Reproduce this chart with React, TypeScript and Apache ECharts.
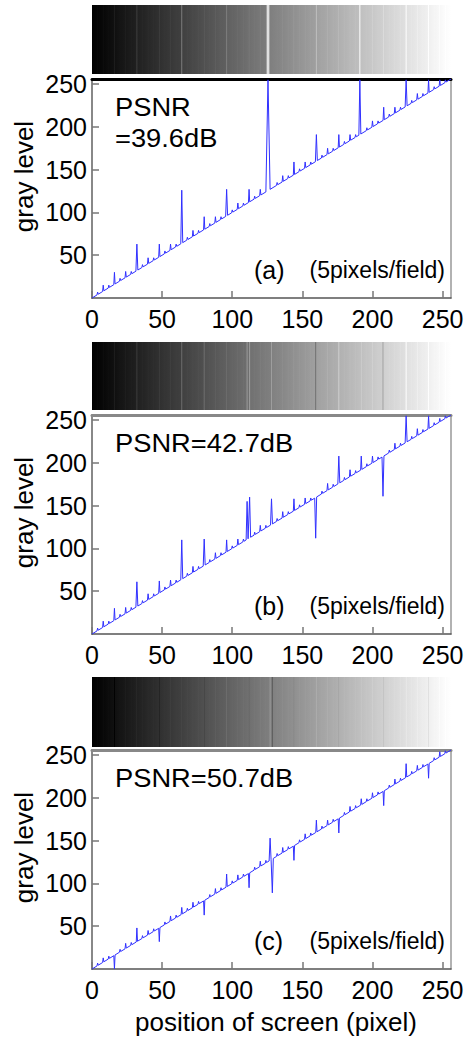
import React, { useEffect, useRef } from "react";
import * as echarts from "echarts";

// ---- data ----
// spike positions (gray level) and the gray value reached at each spike, per panel
const SPIKE_X_A = [4, 8, 12, 16, 20, 24, 28, 32, 36, 40, 44, 48, 52, 56, 60, 64, 68, 72, 76, 80, 84, 88, 92, 96, 100, 104, 108, 112, 116, 120, 125.5, 132, 136, 140, 144, 148, 152, 156, 160, 164, 168, 172, 176, 180, 184, 188, 191, 196, 200, 204, 208, 212, 216, 220, 224, 228, 232, 236, 240, 244, 248, 252];
const PEAK_A = [7, 15, 15, 30, 23, 31, 31, 63, 39, 47, 47, 63, 55, 63, 63, 126, 71, 79, 79, 95, 87, 95, 95, 127, 103, 111, 111, 127, 119, 127, 255, 135, 143, 143, 159, 151, 159, 159, 191, 167, 175, 175, 191, 183, 191, 191, 255, 199, 207, 207, 223, 215, 223, 223, 255, 231, 239, 239, 255, 247, 255, 255];

const SPIKE_X_B = [4, 8, 12, 16, 20, 24, 28, 32, 36, 40, 44, 48, 52, 56, 60, 64, 68, 72, 76, 80, 84, 88, 92, 96, 100, 104, 108, 110.6, 112.4, 116, 120, 124, 128, 132, 136, 140, 144, 148, 152, 156, 159.5, 164, 168, 172, 176, 180, 184, 188, 192, 196, 200, 204, 207.5, 212, 216, 220, 224, 228, 232, 236, 240, 244, 248, 252];
const PEAK_B = [7, 15, 15, 30, 23, 31, 31, 61, 39, 47, 47, 62, 55, 63, 63, 110, 71, 79, 79, 111, 87, 95, 95, 110, 103, 111, 111, 155, 160, 119, 127, 127, 158, 135, 143, 143, 158, 151, 159, 159, 112, 167, 176, 175, 208, 183, 192, 191, 208, 199, 208, 207, 161, 215, 223, 223, 255, 231, 240, 239, 255, 247, 252, 255];

const SPIKE_X_C = [4, 8, 12, 16, 20, 24, 28, 32, 36, 40, 44, 48, 52, 56, 60, 64, 68, 72, 76, 80, 84, 88, 92, 96, 100, 104, 108, 112, 116, 120, 124, 127, 128.6, 132, 136, 140, 144, 148, 152, 156, 160, 164, 168, 172, 176, 180, 184, 188, 192, 196, 200, 204, 208, 212, 216, 220, 224, 228, 232, 236, 240, 244, 248, 252];
const PEAK_C = [7, 13, 15, 0, 23, 30, 31, 48, 39, 45, 47, 32, 55, 62, 63, 72, 71, 78, 79, 63, 87, 94, 95, 111, 103, 110, 111, 95, 119, 126, 127, 153, 89, 135, 142, 143, 127, 151, 158, 159, 174, 167, 174, 175, 159, 183, 190, 191, 199, 199, 206, 207, 191, 215, 222, 223, 240, 231, 238, 239, 223, 247, 254, 255];

const PSNR_LINES_A = ["PSNR", "=39.6dB"];
const PSNR_LINES_B = ["PSNR=42.7dB"];
const PSNR_LINES_C = ["PSNR=50.7dB"];
const PANEL_TAGS = ["(a)", "(b)", "(c)"];
const FIELD_NOTE = "(5pixels/field)";
const Y_TITLE = "gray level";
const X_TITLE = "position of screen (pixel)";
const RAMP_START = [0, 0];
const RAMP_END = [256, 256];

const FONT = "'Liberation Sans', Arial, Helvetica, sans-serif";

function halfWidth(p: number, v: number) {
  const d = Math.abs(v - p);
  if (d > 90) return 1.5;
  if (d > 25) return 0.7;
  return 0.45;
}

function buildLine(xs: number[], ys: number[]) {
  const pts: number[][] = [RAMP_START.slice()];
  xs.forEach((p, i) => {
    const v = ys[i];
    const h = halfWidth(p, v);
    pts.push([p - h, p - h], [p, v], [p + h, p + h]);
  });
  pts.push(RAMP_END.slice());
  return pts;
}

function gray(v: number) {
  const c = Math.round(Math.max(0, Math.min(255, v)));
  return `rgb(${c},${c},${c})`;
}

export default function App() {
  const ref = useRef<HTMLDivElement>(null);
  useEffect(() => {
    if (!ref.current) return;
    const chart = echarts.init(ref.current, null, { renderer: "svg" });

    const panels = [
      { xs: SPIKE_X_A, ys: PEAK_A, barTop: 5, barH: 69, plotTop: 79, topColor: "#000", psnr: PSNR_LINES_A },
      { xs: SPIKE_X_B, ys: PEAK_B, barTop: 342, barH: 68, plotTop: 415, topColor: "#888", psnr: PSNR_LINES_B },
      { xs: SPIKE_X_C, ys: PEAK_C, barTop: 677, barH: 70, plotTop: 750, topColor: "#888", psnr: PSNR_LINES_C },
    ];
    const PLOT_H = 219;
    const LEFT = 92;
    const RIGHT = 22;

    const grid: any[] = [];
    const xAxis: any[] = [];
    const yAxis: any[] = [];
    const series: any[] = [];
    const graphic: any[] = [];

    panels.forEach((p, i) => {
      const pts = buildLine(p.xs, p.ys);
      grid.push({ left: LEFT, right: RIGHT, top: p.barTop, height: p.barH });
      grid.push({ left: LEFT, right: RIGHT, top: p.plotTop, height: PLOT_H });
      const gBar = 2 * i;
      const gPlot = 2 * i + 1;
      const ax = 3 * i;

      xAxis.push({ gridIndex: gBar, type: "value", min: 0, max: 256, show: false });
      xAxis.push({
        gridIndex: gPlot, type: "value", min: 0, max: 256, interval: 50, position: "bottom",
        axisLine: { show: true, onZero: false, lineStyle: { color: "#555", width: 1.5 } },
        axisTick: { show: true, inside: true, length: 7, lineStyle: { color: "#777", width: 1.5 } },
        axisLabel: { show: true, fontSize: 25, color: "#000", fontFamily: FONT, margin: 8, showMaxLabel: false, showMinLabel: true },
        splitLine: { show: false },
      });
      xAxis.push({
        gridIndex: gPlot, type: "value", min: 0, max: 256, position: "top",
        axisLine: { show: true, onZero: false, lineStyle: { color: p.topColor, width: 3 } },
        axisTick: { show: false }, axisLabel: { show: false }, splitLine: { show: false },
      });

      yAxis.push({ gridIndex: gBar, type: "value", min: 0, max: 1, show: false });
      yAxis.push({
        gridIndex: gPlot, type: "value", min: 0, max: 256, interval: 50, position: "left",
        axisLine: { show: true, onZero: false, lineStyle: { color: "#888", width: 2 } },
        axisTick: { show: true, inside: true, length: 7, lineStyle: { color: "#777", width: 1.5 } },
        axisLabel: { show: true, fontSize: 25, color: "#000", fontFamily: FONT, margin: 5, showMinLabel: false, showMaxLabel: false },
        splitLine: { show: false },
      });
      yAxis.push({
        gridIndex: gPlot, type: "value", min: 0, max: 256, position: "right",
        axisLine: { show: true, onZero: false, lineStyle: { color: "#999", width: 1.5 } },
        axisTick: { show: false }, axisLabel: { show: false }, splitLine: { show: false },
      });

      // gray-scale strip: each column shows the displayed gray level of the curve
      series.push({
        type: "custom",
        xAxisIndex: ax,
        yAxisIndex: ax,
        data: [[RAMP_START[0], RAMP_END[0]]],
        encode: { x: [0, 1] },
        silent: true,
        renderItem: (params: any, api: any) => {
          const a = api.coord([api.value(0), 1]);
          const b = api.coord([api.value(1), 0]);
          const w = b[0] - a[0];
          const stops = pts.map((pt) => {
            const c = api.coord([pt[0], 0]);
            return { offset: Math.max(0, Math.min(1, (c[0] - a[0]) / w)), color: gray(pt[1]) };
          });
          return {
            type: "rect",
            shape: { x: a[0], y: a[1], width: w, height: b[1] - a[1] },
            style: { fill: new echarts.graphic.LinearGradient(0, 0, 1, 0, stops) },
          };
        },
      });

      series.push({
        type: "line",
        xAxisIndex: ax + 1,
        yAxisIndex: ax + 1,
        data: pts,
        showSymbol: false,
        symbol: "none",
        silent: true,
        clip: true,
        lineStyle: { color: "#3030ff", width: 1 },
      });

      // texts
      const plotBottom = p.plotTop + PLOT_H;
      graphic.push({
        type: "text", x: 24, y: p.plotTop + PLOT_H / 2 - 12, rotation: Math.PI / 2,
        style: { text: Y_TITLE, font: `26px ${FONT}`, fill: "#000", textAlign: "center", textVerticalAlign: "middle" },
      });
      p.psnr.forEach((t, k) => {
        graphic.push({
          type: "text", x: 115, y: p.plotTop + 28 + k * 31, scaleX: 1.05,
          style: { text: t, font: `26px ${FONT}`, fill: "#000", textAlign: "left", textVerticalAlign: "middle" },
        });
      });
      graphic.push({
        type: "text", x: 254, y: plotBottom - 28,
        style: { text: PANEL_TAGS[i], font: `25px ${FONT}`, fill: "#000", textAlign: "left", textVerticalAlign: "middle" },
      });
      graphic.push({
        type: "text", x: 445, y: plotBottom - 28,
        style: { text: FIELD_NOTE, font: `23px ${FONT}`, fill: "#000", textAlign: "right", textVerticalAlign: "middle" },
      });
    });

    graphic.push({
      type: "text", x: 276, y: 1022,
      style: { text: X_TITLE, font: `26px ${FONT}`, fill: "#000", textAlign: "center", textVerticalAlign: "middle" },
    });

    chart.setOption({
      animation: false,
      backgroundColor: "#fff",
      grid,
      xAxis,
      yAxis,
      series,
      graphic,
    });
    return () => chart.dispose();
  }, []);

  return (
    <div
      ref={ref}
      style={{ position: "fixed", left: 0, top: 0, width: 473, height: 1041, background: "#fff" }}
    />
  );
}
